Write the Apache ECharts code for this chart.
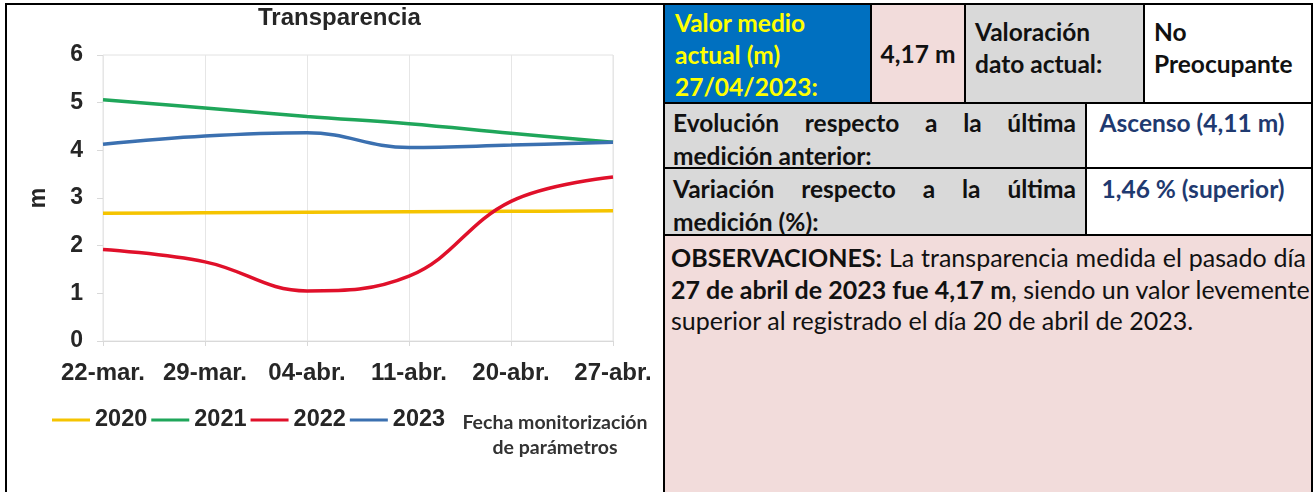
<!DOCTYPE html>
<html>
<head>
<meta charset="utf-8">
<script src="https://cdn.jsdelivr.net/npm/echarts@6/dist/echarts.min.js"></script>
<style>
  body { margin: 0; background: #fff; width: 1316px; height: 492px; overflow: hidden; position: relative; }
  #chart { position: absolute; left: 0; top: 0; width: 662px; height: 492px; }
  #marco { position: absolute; left: 5px; top: 3px; width: 660px; height: 489px; border-left: 2px solid #000; border-top: 2px solid #000; pointer-events: none; }
  /* tabla de la derecha: fondo negro y celdas separadas 2px = bordes */
  #tabla { position: absolute; left: 663px; top: 3px; width: 650px; height: 489px; background: #000; }
  .celda { position: absolute; box-sizing: border-box; font-family: "Lato", sans-serif; font-size: 24.5px; color: #111; white-space: nowrap; }
  .b { font-weight: bold; }
  .azul { background: #0070C0; color: #FFFF00; }
  .rosa { background: #F2DCDB; }
  .gris { background: #D9D9D9; }
  .blanco { background: #fff; }
  .just { text-align: justify; text-align-last: justify; }
  .valor { color: #1F3A70; font-weight: bold; text-align: center; }
  .obs { font-size: 25px; }
</style>
</head>
<body>
<div id="chart"></div>
<div id="marco"></div>

<div id="tabla">
  <!-- fila 1 -->
  <div class="celda azul b" style="left:2px;top:2px;width:205px;height:97px;padding:2px 0 0 10px;line-height:32px;">Valor medio<br>actual (m)<br>27/04/2023:</div>
  <div class="celda rosa b" style="left:209px;top:2px;width:92px;height:97px;line-height:97px;text-align:center;">4,17 m</div>
  <div class="celda gris b" style="left:303px;top:2px;width:177px;height:97px;padding:11px 0 0 9px;line-height:32px;">Valoración<br>dato actual:</div>
  <div class="celda blanco b" style="left:482px;top:2px;width:166px;height:97px;padding:11px 0 0 9px;line-height:32px;">No<br>Preocupante</div>
  <!-- fila 2 -->
  <div class="celda gris b" style="left:2px;top:101px;width:420px;height:63px;padding:2px 9px 0 8px;line-height:33px;">
    <div class="just">Evolución respecto a la última</div>
    <div>medición anterior:</div>
  </div>
  <div class="celda blanco valor" style="left:424px;top:101px;width:224px;height:63px;padding:2px 14px 0 0;line-height:33px;">Ascenso (4,11 m)</div>
  <!-- fila 3 -->
  <div class="celda gris b" style="left:2px;top:166px;width:420px;height:65px;padding:3px 9px 0 8px;line-height:33px;">
    <div class="just">Variación respecto a la última</div>
    <div>medición (%):</div>
  </div>
  <div class="celda blanco valor" style="left:424px;top:166px;width:224px;height:65px;padding:3px 12px 0 0;line-height:33px;">1,46 % (superior)</div>
  <!-- fila 4 -->
  <div class="celda rosa obs" style="left:2px;top:233px;width:646px;height:256px;padding:6px 5px 0 6px;line-height:31.5px;">
    <div class="just"><span class="b">OBSERVACIONES:</span> La transparencia medida el pasado día</div>
    <div class="just"><span class="b">27 de abril de 2023 fue 4,17 m</span>, siendo un valor levemente</div>
    <div>superior al registrado el día 20 de abril de 2023.</div>
  </div>
</div>

<script>
// fechas de muestreo
var fechas = ["22-mar.", "29-mar.", "04-abr.", "11-abr.", "20-abr.", "27-abr."];
// transparencia (m) por año
var t2020 = [2.68, 2.69, 2.7, 2.71, 2.72, 2.73];
var t2021 = [5.06, 4.89, 4.71, 4.56, 4.36, 4.17];
var t2022 = [1.92, 1.66, 1.05, 1.36, 2.93, 3.44];
var t2023 = [4.13, 4.3, 4.37, 4.06, 4.11, 4.17];
var anios = ["2020", "2021", "2022", "2023"];
var colores = ["#F5C400", "#1FA65A", "#E0102A", "#3B70B0"];

var fuente = "'Liberation Sans', Arial, sans-serif";
var valores = [t2020, t2021, t2022, t2023];

var series = [];
for (var i = 0; i < anios.length; i++) {
  series.push({
    name: anios[i],
    type: "line",
    data: valores[i],
    smooth: 0.4,
    showSymbol: false,
    lineStyle: { width: 3.5, color: colores[i] },
    itemStyle: { color: colores[i] },
  });
}

var myChart = echarts.init(document.getElementById("chart"));
myChart.setOption({
  animation: false,
  title: {
    text: "Transparencia",
    left: 258,
    top: 6,
    padding: 0,
    textStyle: { fontFamily: fuente, fontSize: 24, fontWeight: "bold", color: "#262626" },
  },
  legend: {
    data: anios,
    left: 52,
    top: 408,
    padding: 0,
    icon: "rect",
    itemWidth: 38,
    itemHeight: 3,
    itemGap: 4,
    textStyle: { fontFamily: fuente, fontSize: 23.5, fontWeight: "bold", color: "#262626" },
  },
  grid: {
    left: 103,
    right: 49,
    top: 55,
    bottom: 151,
    show: true,
    borderColor: "#e2e2e2",
    borderWidth: 1,
  },
  xAxis: {
    type: "category",
    boundaryGap: false,
    data: fechas,
    axisLine: { lineStyle: { color: "#d9d9d9" } },
    axisTick: { show: true, length: 5, lineStyle: { color: "#d9d9d9" } },
    splitLine: { show: true, lineStyle: { color: "#e6e6e6" } },
    axisLabel: { interval: 0, margin: 20, fontFamily: fuente, fontSize: 24, fontWeight: "bold", color: "#262626" },
  },
  yAxis: {
    type: "value",
    min: 0,
    max: 6,
    interval: 1,
    name: "m",
    nameLocation: "middle",
    nameGap: 53,
    nameTextStyle: { fontFamily: fuente, fontSize: 23, fontWeight: "bold", color: "#262626" },
    axisLine: { show: false },
    axisTick: { show: true, length: 6, lineStyle: { color: "#d9d9d9" } },
    splitLine: { show: false },
    axisLabel: { margin: 20, fontFamily: fuente, fontSize: 23, fontWeight: "bold", color: "#262626" },
  },
  graphic: [
    {
      type: "text",
      x: 555,
      y: 410,
      style: {
        text: "Fecha monitorización\nde parámetros",
        font: "bold 19.5px Lato",
        fill: "#333",
        align: "center",
        lineHeight: 25,
      },
    },
  ],
  series: series,
});
</script>
</body>
</html>
